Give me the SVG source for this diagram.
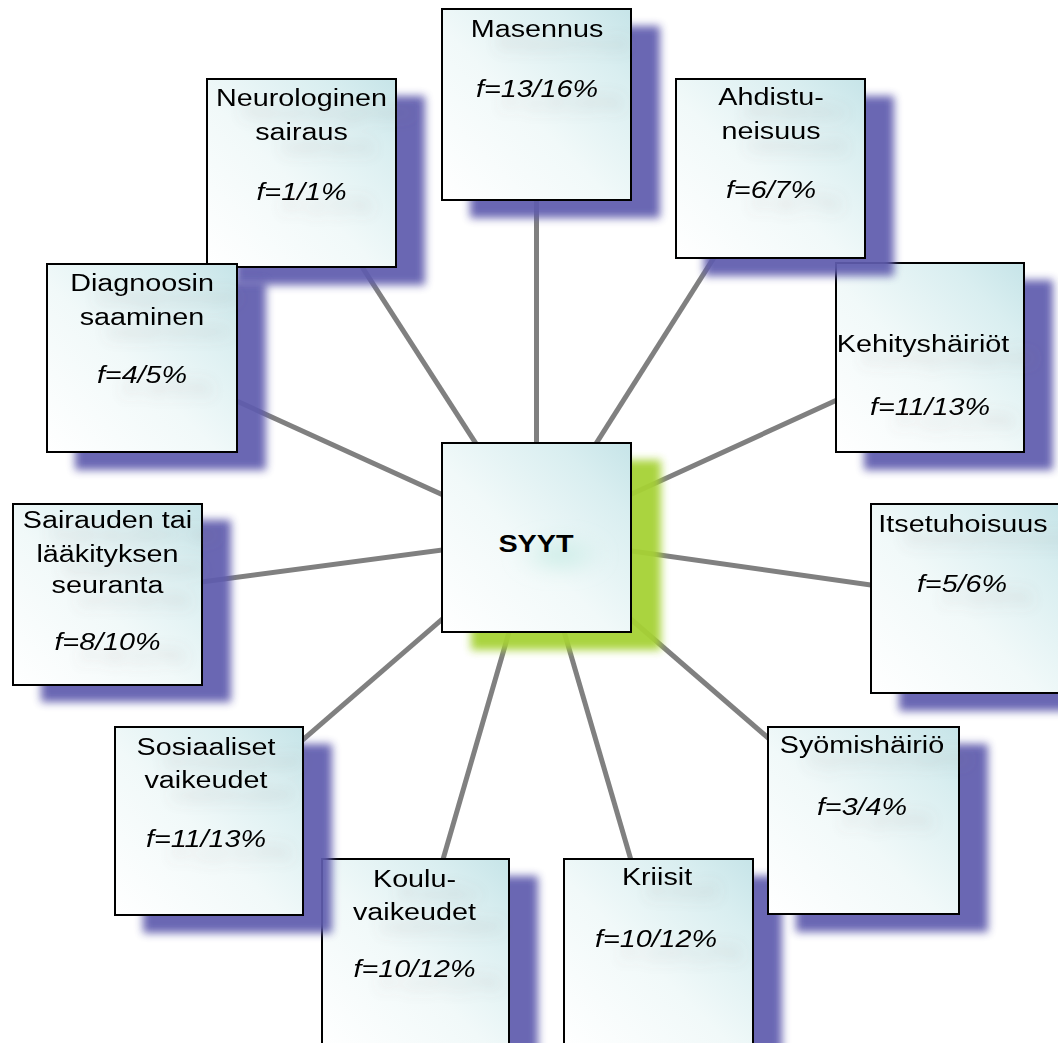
<svg xmlns="http://www.w3.org/2000/svg" width="1058" height="1043" viewBox="0 0 1058 1043">
<defs>
<linearGradient id="bg" x1="0" y1="1" x2="1" y2="0">
<stop offset="0" stop-color="#ffffff"/>
<stop offset="0.45" stop-color="#f1f9f9"/>
<stop offset="0.8" stop-color="#d9eef0"/>
<stop offset="1" stop-color="#c6e4e8"/>
</linearGradient>
<radialGradient id="cblob" cx="0.5" cy="0.5" r="0.5">
<stop offset="0" stop-color="#bde8df" stop-opacity="0.9"/>
<stop offset="1" stop-color="#bde8df" stop-opacity="0"/>
</radialGradient>
<filter id="sh" x="-20%" y="-20%" width="140%" height="140%">
<feGaussianBlur stdDeviation="4"/>
</filter>
<filter id="ts" x="-30%" y="-60%" width="160%" height="260%">
<feGaussianBlur in="SourceAlpha" stdDeviation="7" result="b"/>
<feOffset in="b" dx="26" dy="14" result="o"/>
<feFlood flood-color="#7a7070" flood-opacity="0.22"/>
<feComposite in2="o" operator="in" result="s"/>
<feMerge><feMergeNode in="s"/><feMergeNode in="SourceGraphic"/></feMerge>
</filter>
<filter id="blob" x="-50%" y="-50%" width="200%" height="200%">
<feGaussianBlur stdDeviation="10"/>
</filter>
</defs>
<style>
.shadow{fill:#5f5bae;opacity:0.93;filter:url(#sh)}
.gshadow{fill:#a6d234;filter:url(#sh)}
.box{fill:url(#bg);stroke:#000;stroke-width:2}
.t{font-family:"Liberation Sans",Arial,sans-serif;font-size:23px;fill:#000;text-anchor:middle}
.f{font-style:italic}
.b{font-weight:bold;font-size:24px}
.conn line{stroke:#808080;stroke-width:5}
</style>
<rect width="1058" height="1043" fill="#ffffff"/>
<g id="connectors" class="conn">
<line x1="536.5" y1="537.5" x2="536.5" y2="104.5"/>
<line x1="536.5" y1="537.5" x2="301.5" y2="173"/>
<line x1="536.5" y1="537.5" x2="770.5" y2="168.5"/>
<line x1="536.5" y1="537.5" x2="930" y2="357.5"/>
<line x1="536.5" y1="537.5" x2="142" y2="358"/>
<line x1="536.5" y1="537.5" x2="107.5" y2="594.5"/>
<line x1="536.5" y1="537.5" x2="965.5" y2="598.5"/>
<line x1="536.5" y1="537.5" x2="209" y2="821"/>
<line x1="536.5" y1="537.5" x2="863.5" y2="820.5"/>
<line x1="536.5" y1="537.5" x2="415.5" y2="954"/>
<line x1="536.5" y1="537.5" x2="658.5" y2="954"/>
</g>
<g id="n-masennus">
<rect class="shadow" x="470" y="26" width="190" height="192"/>
<rect class="box" x="442" y="9" width="189" height="191"/>
<g filter="url(#ts)">
<text class="t" transform="matrix(1.25 0 0 1 537 37)">Masennus</text>
<text class="t f" transform="matrix(1.25 0 0 1 537 97)">f=13/16%</text>
</g>
</g>
<g id="n-neurologinen">
<rect class="shadow" x="235" y="96" width="190" height="189"/>
<rect class="box" x="207" y="79" width="189" height="188"/>
<g filter="url(#ts)">
<text class="t" transform="matrix(1.25 0 0 1 301.5 106)">Neurologinen</text>
<text class="t" transform="matrix(1.25 0 0 1 301.5 140)">sairaus</text>
<text class="t f" transform="matrix(1.25 0 0 1 301.5 200)">f=1/1%</text>
</g>
</g>
<g id="n-kehityshairiot">
<rect class="shadow" x="864" y="280" width="189" height="190"/>
<rect class="box" x="836" y="263" width="188" height="189"/>
<g filter="url(#ts)">
<text class="t" transform="matrix(1.25 0 0 1 923 352)">Kehityshäiriöt</text>
<text class="t f" transform="matrix(1.25 0 0 1 930 415)">f=11/13%</text>
</g>
</g>
<g id="n-ahdistuneisuus">
<rect class="shadow" x="704" y="96" width="190" height="180"/>
<rect class="box" x="676" y="79" width="189" height="179"/>
<g filter="url(#ts)">
<text class="t" transform="matrix(1.25 0 0 1 771 105)">Ahdistu-</text>
<text class="t" transform="matrix(1.25 0 0 1 771 139)">neisuus</text>
<text class="t f" transform="matrix(1.25 0 0 1 771 198)">f=6/7%</text>
</g>
</g>
<g id="n-diagnoosin">
<rect class="shadow" x="75" y="281" width="191" height="189"/>
<rect class="box" x="47" y="264" width="190" height="188"/>
<g filter="url(#ts)">
<text class="t" transform="matrix(1.25 0 0 1 142 291)">Diagnoosin</text>
<text class="t" transform="matrix(1.25 0 0 1 142 325)">saaminen</text>
<text class="t f" transform="matrix(1.25 0 0 1 142 383)">f=4/5%</text>
</g>
</g>
<g id="n-sairauden">
<rect class="shadow" x="41" y="520" width="190" height="182"/>
<rect class="box" x="13" y="504" width="189" height="181"/>
<g filter="url(#ts)">
<text class="t" transform="matrix(1.25 0 0 1 107.5 528)">Sairauden tai</text>
<text class="t" transform="matrix(1.25 0 0 1 107.5 562)">lääkityksen</text>
<text class="t" transform="matrix(1.25 0 0 1 107.5 593)">seuranta</text>
<text class="t f" transform="matrix(1.25 0 0 1 107.5 650)">f=8/10%</text>
</g>
</g>
<g id="n-itsetuhoisuus">
<rect class="shadow" x="899" y="521" width="190" height="190"/>
<rect class="box" x="871" y="504" width="189" height="189"/>
<g filter="url(#ts)">
<text class="t" transform="matrix(1.25 0 0 1 963 532)">Itsetuhoisuus</text>
<text class="t f" transform="matrix(1.25 0 0 1 962 592)">f=5/6%</text>
</g>
</g>
<g id="n-koulu">
<rect class="shadow" x="350" y="876" width="188" height="191"/>
<rect class="box" x="322" y="859" width="187" height="190"/>
<g filter="url(#ts)">
<text class="t" transform="matrix(1.25 0 0 1 414.5 887)">Koulu-</text>
<text class="t" transform="matrix(1.25 0 0 1 414.5 920)">vaikeudet</text>
<text class="t f" transform="matrix(1.25 0 0 1 414.5 977)">f=10/12%</text>
</g>
</g>
<g id="n-sosiaaliset">
<rect class="shadow" x="143" y="744" width="189" height="189"/>
<rect class="box" x="115" y="727" width="188" height="188"/>
<g filter="url(#ts)">
<text class="t" transform="matrix(1.25 0 0 1 206 755)">Sosiaaliset</text>
<text class="t" transform="matrix(1.25 0 0 1 206 788)">vaikeudet</text>
<text class="t f" transform="matrix(1.25 0 0 1 206 847)">f=11/13%</text>
</g>
</g>
<g id="n-kriisit">
<rect class="shadow" x="592" y="876" width="190" height="191"/>
<rect class="box" x="564" y="859" width="189" height="190"/>
<g filter="url(#ts)">
<text class="t" transform="matrix(1.25 0 0 1 657 885)">Kriisit</text>
<text class="t f" transform="matrix(1.25 0 0 1 656 947)">f=10/12%</text>
</g>
</g>
<g id="n-syomishairio">
<rect class="shadow" x="796" y="744" width="192" height="188"/>
<rect class="box" x="768" y="727" width="191" height="187"/>
<g filter="url(#ts)">
<text class="t" transform="matrix(1.25 0 0 1 862 753)">Syömishäiriö</text>
<text class="t f" transform="matrix(1.25 0 0 1 862 815)">f=3/4%</text>
</g>
</g>
<g id="n-syyt">
<rect class="gshadow" x="471" y="460" width="190" height="190" opacity="0.95"/>
<rect class="box" x="442" y="443" width="189" height="189"/>
<ellipse cx="560" cy="555" rx="45" ry="18" fill="url(#cblob)" filter="url(#blob)"/>
<text class="t b" transform="matrix(1.2 0 0 1 536 552)">SYYT</text>
</g>
</svg>
